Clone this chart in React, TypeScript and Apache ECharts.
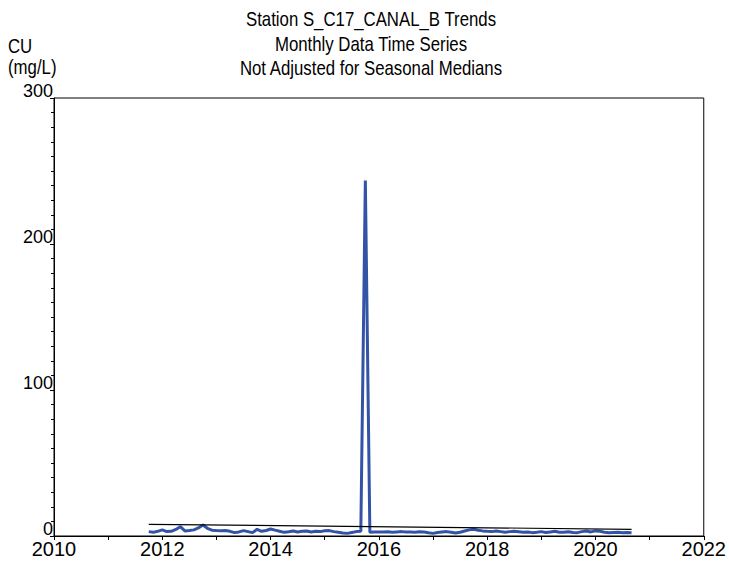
import React, { useEffect, useRef } from "react";
import * as echarts from "echarts";

const titleLines = ["Station S_C17_CANAL_B Trends", "Monthly Data Time Series", "Not Adjusted for Seasonal Medians"];
const yAxisName = ["CU", "(mg/L)"];

// first month of record: October 2011 (year, month index 0-11)
const startYear = 2011;
const startMonth = 9;

// monthly CU values (mg/L), Oct 2011 .. Sep 2020
const cuValues = [
  3.0, 2.5, 3.2,
  4.2, 3.0, 3.2, 4.5, 6.4, 3.5, 3.8, 4.2, 5.5, 7.5, 5.3, 4.0,
  3.7, 3.6, 3.7, 3.2, 2.3, 2.8, 3.7, 3.0, 2.3, 4.6, 3.2, 3.8,
  4.8, 4.0, 3.3, 2.5, 2.9, 3.4, 2.7, 3.2, 3.4, 2.8, 3.2, 3.0,
  3.6, 3.7, 3.0, 2.5, 2.0, 1.8, 2.4, 3.0, 3.2, 243.5, 2.6, 2.7,
  2.8, 2.7, 2.9, 2.6, 2.8, 3.0, 2.7, 2.8, 2.6, 2.9, 2.7, 2.2,
  1.8, 2.4, 2.8, 3.0, 2.5, 2.0, 2.6, 3.4, 4.2, 4.6, 4.0, 3.5,
  3.2, 3.0, 3.4, 3.0, 2.6, 3.0, 3.3, 2.9, 2.5, 2.8, 2.3, 2.6,
  3.0, 2.4, 2.8, 3.2, 2.6, 2.5, 2.9, 2.4, 2.3, 3.0, 3.4, 2.8,
  3.5, 3.2, 2.6, 2.2, 2.4, 2.5, 2.3, 2.4, 2.2,
];

// trend line end points [decimal year, value]
const trendX = [2011.75, 2020.667];
const trendY = [8.0, 4.6];

const xTicks = { min: 2010, max: 2022, interval: 2 };
const yTicks = { min: 0, max: 300, interval: 100 };

const FONT = "'Liberation Sans', Arial, Helvetica, sans-serif";

export default function App() {
  const ref = useRef<HTMLDivElement>(null);
  useEffect(() => {
    if (!ref.current) return;
    const chart = echarts.init(ref.current, undefined, { renderer: "svg" });
    const series = cuValues.map((v, i) => [startYear + (startMonth + i) / 12, v]);
    const trend = trendX.map((x, i) => [x, trendY[i]]);
    const titleEls = titleLines.map((t, i) => ({
      type: "text",
      x: 371,
      y: 19 + i * 24.5,
      scaleX: 0.84,
      style: {
        text: t,
        fontFamily: FONT,
        fontSize: 20,
        fill: "#000",
        align: "center",
        verticalAlign: "middle",
      },
    }));
    const nameEls = yAxisName.map((t, i) => ({
      type: "text",
      x: 8,
      y: 46 + i * 21,
      scaleX: 0.84,
      style: {
        text: t,
        fontFamily: FONT,
        fontSize: 20,
        fill: "#000",
        align: "left",
        verticalAlign: "middle",
      },
    }));
    chart.setOption({
      animation: false,
      backgroundColor: "#ffffff",
      textStyle: { fontFamily: FONT },
      graphic: [...titleEls, ...nameEls],
      grid: {
        left: 54,
        right: 24,
        top: 98,
        bottom: 26,
        show: true,
        borderColor: "#000",
        borderWidth: 1,
        backgroundColor: "transparent",
      },
      xAxis: {
        type: "value",
        min: xTicks.min,
        max: xTicks.max,
        interval: xTicks.interval,
        axisLine: { show: true, lineStyle: { color: "#000", width: 1 } },
        axisTick: { show: true, length: 4, lineStyle: { color: "#000" } },
        minorTick: { show: true, splitNumber: 2, length: 4, lineStyle: { color: "#000" } },
        splitLine: { show: false },
        axisLabel: { color: "#000", fontSize: 20, fontFamily: FONT, margin: 3, formatter: (v: number) => String(v) },
      },
      yAxis: {
        type: "value",
        min: yTicks.min,
        max: yTicks.max,
        interval: yTicks.interval,
        axisLine: { show: true, lineStyle: { color: "#000", width: 1 } },
        axisTick: { show: true, length: 4, lineStyle: { color: "#000" } },
        minorTick: { show: true, splitNumber: 10, length: 3, lineStyle: { color: "#000" } },
        splitLine: { show: false },
        axisLabel: {
          color: "#000",
          fontSize: 18,
          fontFamily: FONT,
          margin: 1,
          verticalAlign: "bottom",
          lineHeight: 15,
        },
      },
      series: [
        {
          type: "line",
          data: trend,
          showSymbol: false,
          lineStyle: { color: "#000", width: 1.2 },
          z: 3,
        },
        {
          type: "line",
          data: series,
          showSymbol: false,
          lineStyle: { color: "#3353a6", width: 3 },
          z: 2,
        },
      ],
    });
    return () => chart.dispose();
  }, []);
  return <div ref={ref} style={{ width: 729, height: 562, position: "absolute", left: 0, top: 0 }} />;
}
